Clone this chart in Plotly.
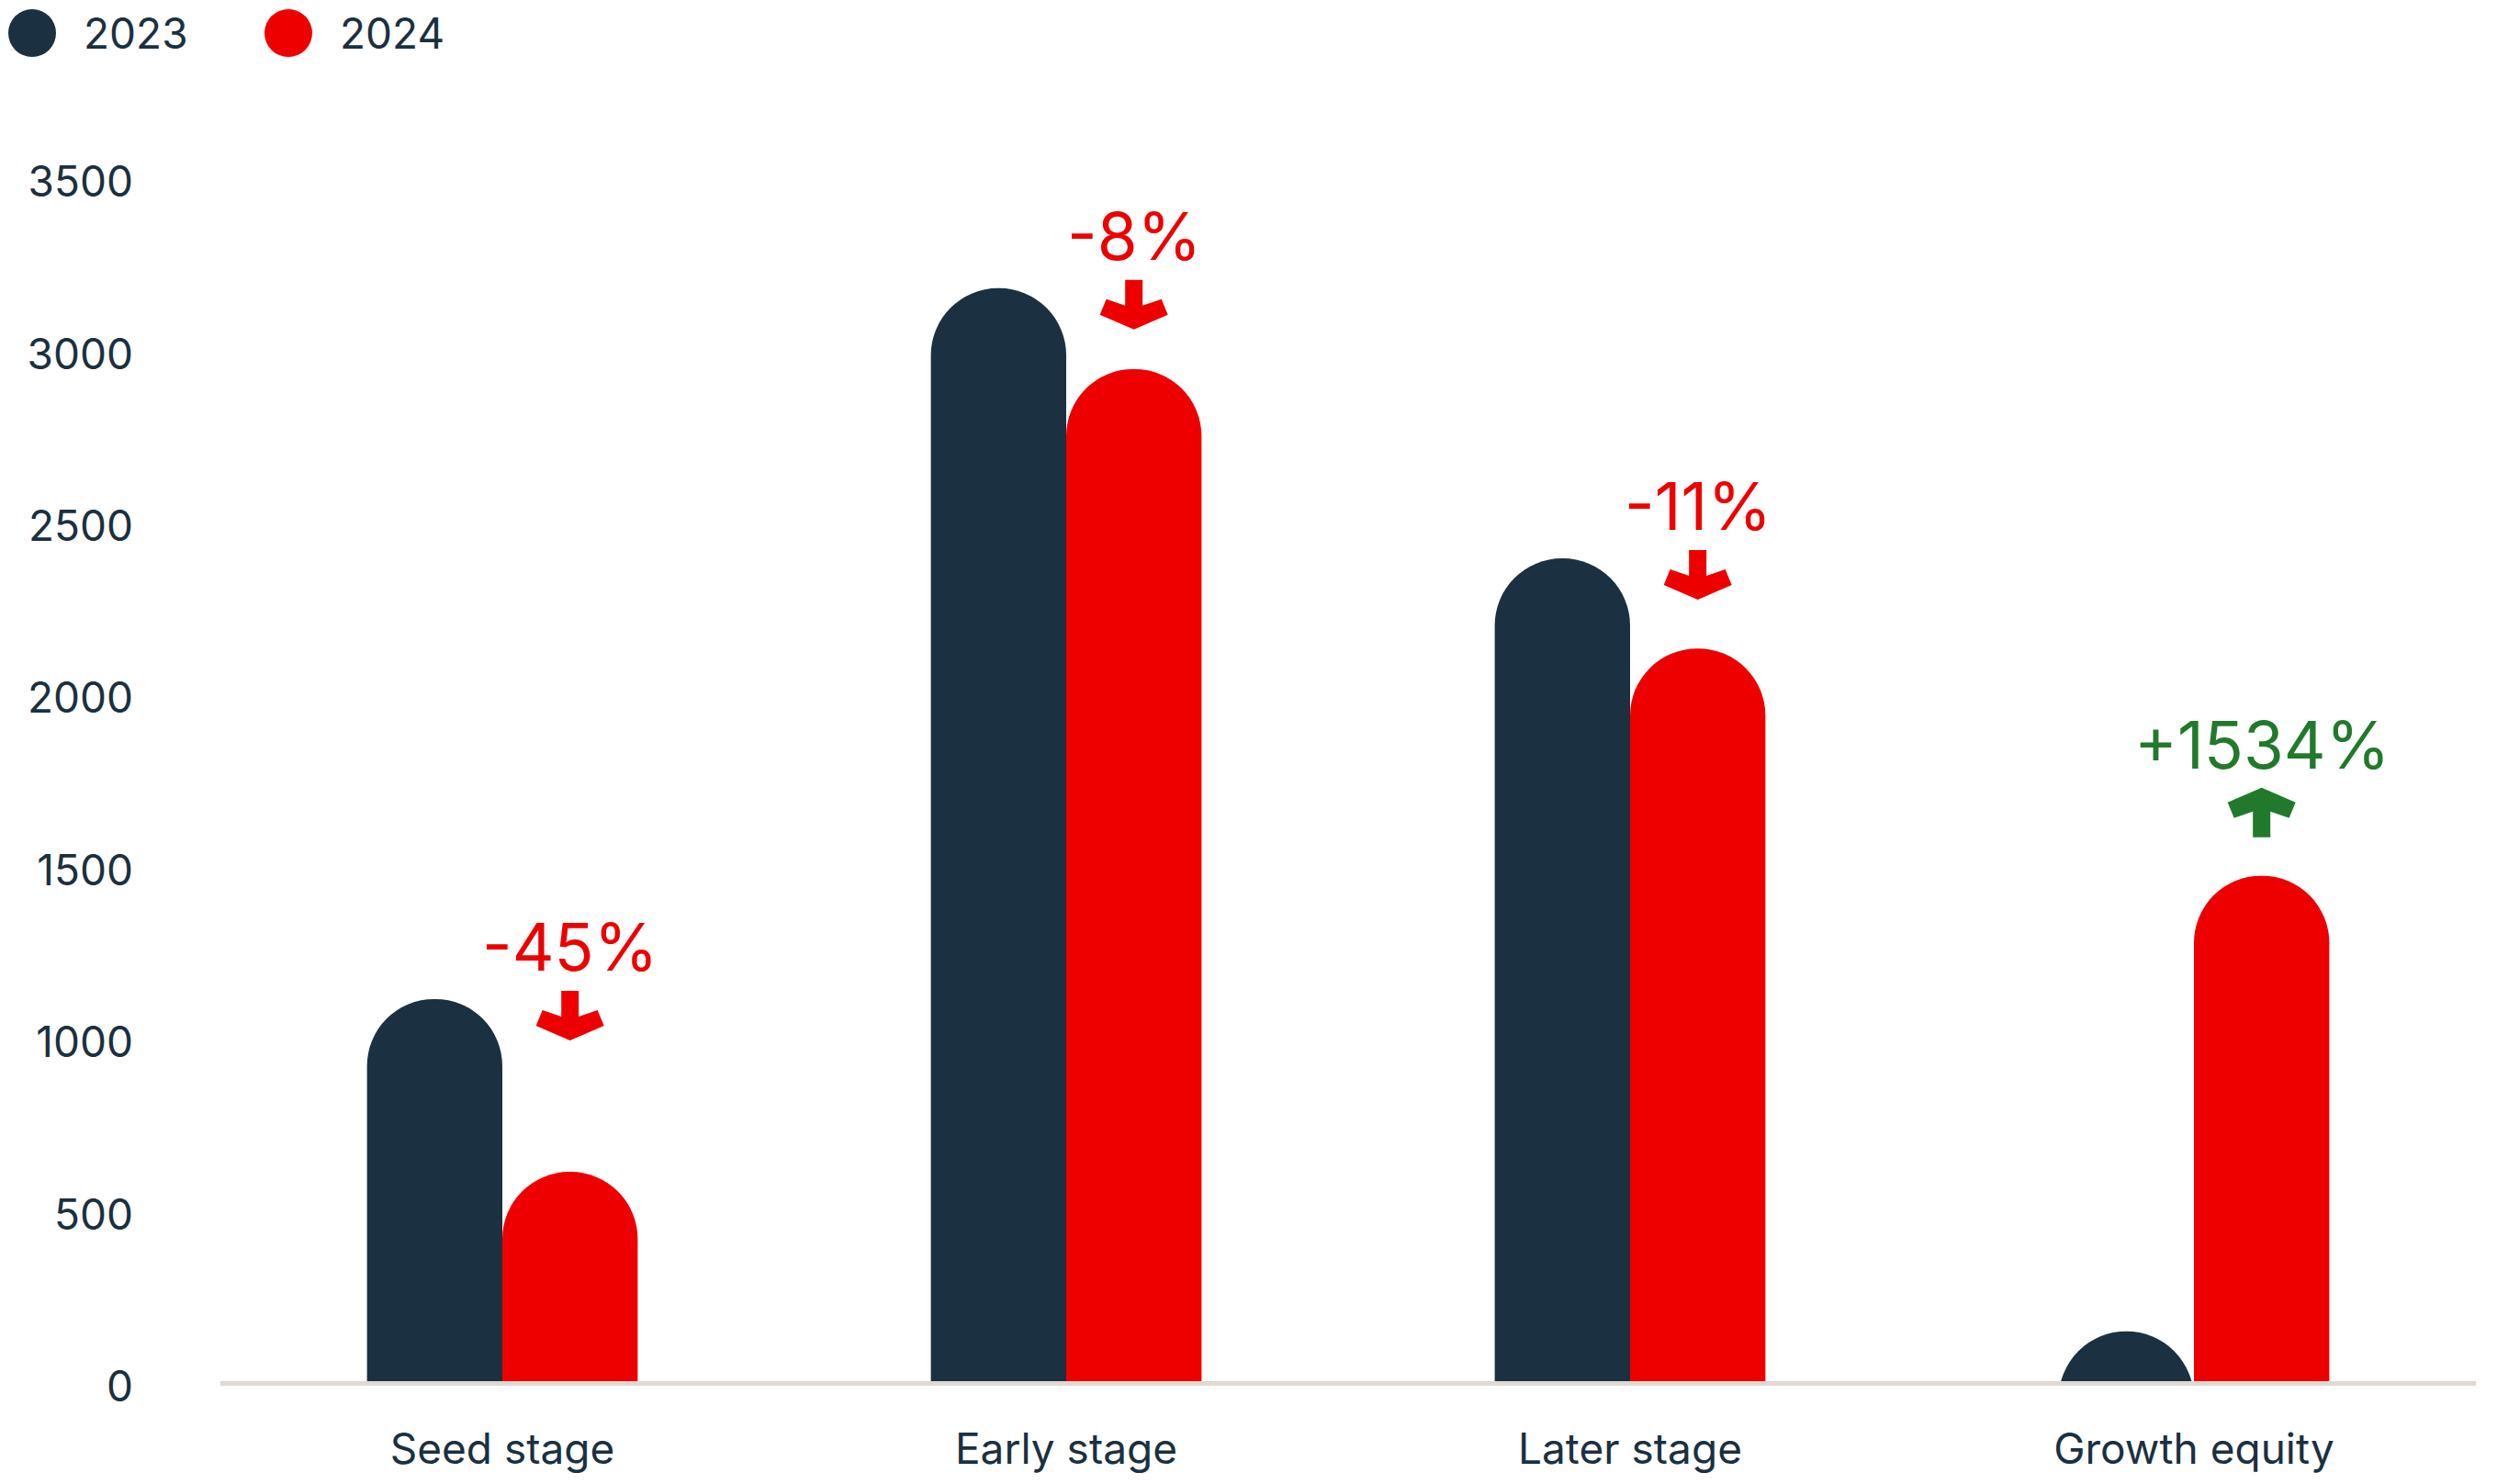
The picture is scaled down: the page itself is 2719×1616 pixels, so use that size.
import plotly.graph_objects as go

# ---------------- data ----------------
categories = ["Seed stage", "Early stage", "Later stage", "Growth equity"]
series_names = ["2023", "2024"]
values_2023 = [1110, 3175, 2390, 145]
values_2024 = [608, 2940, 2128, 1468]
change_labels = ["-45%", "-8%", "-11%", "+1534%"]
y_tick_values = [0, 500, 1000, 1500, 2000, 2500, 3000, 3500]

# ---------------- style ----------------
NAVY = "#1B3040"
RED = "#EE0000"
GREEN = "#217A2B"
AXIS = "#E0D8D2"
FONT = "Inter"

W, H = 2719, 1616
ML, MR, MT, MB = 240, 23, 192, 112
PW = W - ML - MR
PH = H - MT - MB
YMAX = 3500
BARGAP = 0.52
HALF = (1 - BARGAP) / 4  # offset of a bar centre from its category centre
BAR_PX = (1 - BARGAP) / 2 * PW / len(categories)  # bar width in pixels
RADIUS = BAR_PX / 2

fig = go.Figure()
shapes = []
series = [values_2023, values_2024]
colors = [NAVY, RED]
for k, (name, vals, col) in enumerate(zip(series_names, series, colors)):
    point_colors = []
    for i, v in enumerate(vals):
        h_px = v * PH / YMAX
        if h_px < RADIUS:
            # very short bar: draw as a segment of the rounded cap circle
            point_colors.append("rgba(0,0,0,0)")
            shapes.append(dict(type="circle", xref="x", yref="y",
                               xsizemode="pixel", ysizemode="pixel",
                               xanchor=i + (2 * k - 1) * HALF, yanchor=v,
                               x0=-RADIUS, x1=RADIUS, y0=-2 * RADIUS, y1=0,
                               fillcolor=col, line=dict(width=0), layer="below"))
        else:
            point_colors.append(col)
    fig.add_trace(go.Bar(
        x=categories, y=vals, name=name,
        marker=dict(color=point_colors, line=dict(width=0), cornerradius="50%"),
        showlegend=False,
    ))

# arrow glyph (pointing down, tip at origin, y up in pixels)
down_arrow = [(-9.5, 54), (9.5, 54), (9.5, 26), (30, 33), (37, 16), (0, 0),
              (-37, 16), (-30, 33), (-9.5, 26)]


def arrow_path(points, dy, flip):
    pts = [(x, (-y if flip else y) + dy) for x, y in points]
    return "M " + " L ".join(f"{x:.1f},{y:.1f}" for x, y in pts) + " Z"


annotations = []
for i, (a, b, lab) in enumerate(zip(values_2023, values_2024, change_labels)):
    up = b > a
    col = GREEN if up else RED
    top = max(a, b)
    xa = i + HALF
    if up:
        path = arrow_path(down_arrow, 96, True)
        tshift = 143
    else:
        path = arrow_path(down_arrow, -45, False)
        tshift = 57
    shapes.append(dict(type="path", xref="x", yref="y", xsizemode="pixel",
                       ysizemode="pixel", xanchor=xa, yanchor=top, path=path,
                       fillcolor=col, line=dict(width=0), layer="above"))
    annotations.append(dict(x=xa, y=top, xref="x", yref="y", text=lab,
                            showarrow=False, yshift=tshift, xanchor="center",
                            yanchor="middle",
                            font=dict(family=FONT, size=71, color=col)))

# manual legend with large circles
legend_px = [(35, 36), (314, 36)]
for (cx, cy), name, col in zip(legend_px, series_names, colors):
    px_x = (cx - ML) / PW
    px_y = (H - MB - cy) / PH
    shapes.append(dict(type="circle", xref="paper", yref="paper",
                       xsizemode="pixel", ysizemode="pixel",
                       xanchor=px_x, yanchor=px_y, x0=-26, x1=26, y0=-26, y1=26,
                       fillcolor=col, line=dict(width=0)))
    annotations.append(dict(x=(cx + 54 - ML) / PW, y=px_y, xref="paper",
                            yref="paper", text=name, showarrow=False,
                            xanchor="left", yanchor="middle",
                            font=dict(family=FONT, size=46, color=NAVY)))

fig.update_layout(
    width=W, height=H,
    margin=dict(l=ML, r=MR, t=MT, b=MB, pad=0),
    paper_bgcolor="white", plot_bgcolor="white",
    barmode="group", bargap=BARGAP, bargroupgap=0,
    showlegend=False,
    shapes=shapes, annotations=annotations,
    font=dict(family=FONT, color=NAVY),
    xaxis=dict(type="category", showline=True, linecolor=AXIS, linewidth=5,
               ticks="", showgrid=False, zeroline=False,
               tickfont=dict(family=FONT, size=46, color=NAVY),
               ticklabelstandoff=30),
    yaxis=dict(range=[0, YMAX], tickvals=y_tick_values, showgrid=False,
               zeroline=False, showline=False, ticks="",
               tickfont=dict(family=FONT, size=46, color=NAVY),
               ticklabelstandoff=94, ticklabelshift=6),
)

fig.write_html("out.html", config={"displayModeBar": False},
               post_script="document.body.style.margin='0';document.body.style.overflow='hidden';")
